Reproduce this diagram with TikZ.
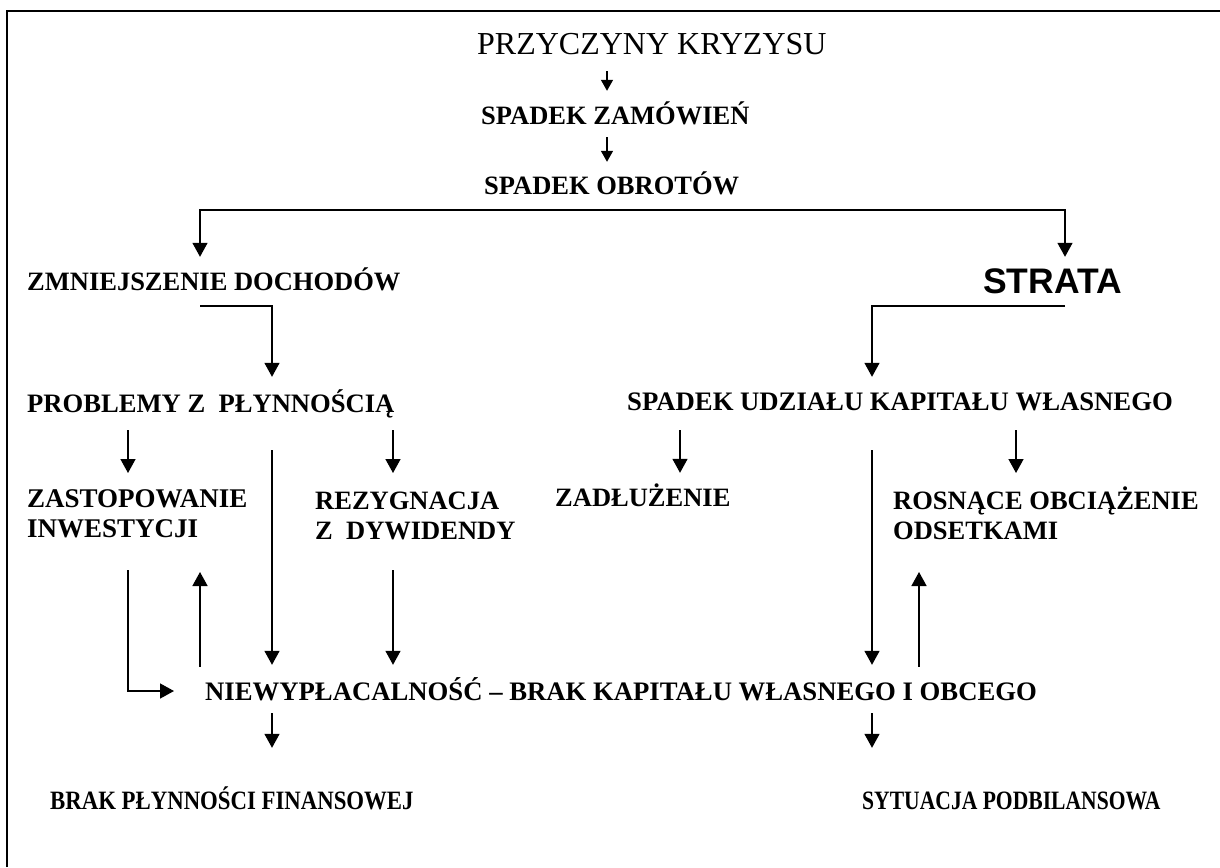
\documentclass[tikz,border=0pt]{standalone}
\usepackage{fontspec}
\usepackage{graphicx}
\setmainfont{Liberation Serif}
\newfontfamily\headsans{Liberation Sans}
\usetikzlibrary{arrows.meta,calc}
\newcommand{\boxfont}[1]{\bfseries\fontsize{#1}{30}\selectfont}
\newcommand{\firstline}{\rule{0pt}{26pt}}
\begin{document}
\begin{tikzpicture}[x=1pt,y=-1pt,
  every node/.style={inner sep=0pt},
  lbl/.style={anchor=base west, text height=18pt, text depth=0pt,
    font=\boxfont{26.5}},
  lbltwo/.style={anchor=north west, align=left, font=\boxfont{26.5}},
  arr/.style={line width=1.5pt, -{Triangle[length=14pt,width=15pt]}},
  arrsmall/.style={line width=1.5pt, -{Triangle[length=11pt,width=12pt]}},
  framepen/.style={line width=2.4pt}]
\useasboundingbox (0,0) rectangle (1220,867);
\fill[white] (0,0) rectangle (1220,867);
\draw[framepen] (7,867) -- (7,11) -- (1220,11);

% text blocks
\node[lbl, font=\fontsize{32}{36}\selectfont, text height=22pt] (title) at (477,55) {PRZYCZYNY KRYZYSU};
\node[lbl] (zam)  at (481,124) {SPADEK ZAMÓWIEŃ};
\node[lbl] (obr)  at (484,194) {SPADEK OBROTÓW};
\node[lbl] (zmn)  at (27,290)  {ZMNIEJSZENIE DOCHODÓW};
\node[lbl, font=\headsans\bfseries\fontsize{35.5}{40}\selectfont, text height=25pt] (strata) at (983,293) {STRATA};
\node[lbl, font=\boxfont{26.6}] (prob) at (27,412) {PROBLEMY Z~ PŁYNNOŚCIĄ};
\node[lbl, font=\boxfont{26.7}] (sukw) at (627,410) {SPADEK UDZIAŁU KAPITAŁU WŁASNEGO};
\node[lbltwo, font=\boxfont{27}] (zast) at (27,481)  {\firstline ZASTOPOWANIE\\INWESTYCJI};
\node[lbltwo] (rez)  at (315,483) {\firstline REZYGNACJA\\Z~ DYWIDENDY};
\node[lbl] (zad)  at (555,506) {ZADŁUŻENIE};
\node[lbltwo] (ros)  at (893,483) {\firstline ROSNĄCE OBCIĄŻENIE\\ODSETKAMI};
\node[lbl, font=\boxfont{26.7}] (niew) at (205,700) {NIEWYPŁACALNOŚĆ – BRAK KAPITAŁU WŁASNEGO I OBCEGO};
\node[lbl] (brak) at (50,809)  {\scalebox{0.86}[1]{BRAK PŁYNNOŚCI FINANSOWEJ}};
\node[lbl] (syt)  at (862,809) {\scalebox{0.815}[1]{SYTUACJA PODBILANSOWA}};

% columns used by the connectors
\coordinate (cA) at (607,0);
\coordinate (cB) at (200,0);
\coordinate (cC) at (1065,0);
\coordinate (cD) at (272,0);
\coordinate (cE) at (872,0);
\coordinate (cF) at (128,0);
\coordinate (cG) at (393,0);
\coordinate (cH) at (680,0);
\coordinate (cI) at (1016,0);
\coordinate (cJ) at (200,0);
\coordinate (cK) at (919,0);

% top chain
\draw[arrsmall, shorten <=16pt, shorten >=15pt] (title.south -| cA) -- (zam.north -| cA);
\draw[arrsmall, shorten <=13pt, shorten >=14pt] (zam.south -| cA) -- (obr.north -| cA);

% split into the two branches
\coordinate (bar) at ($(obr.south)+(0,16)$);
\draw[arr, shorten >=15pt] (bar) -| (zmn.north -| cB);
\draw[arr, shorten >=11pt] (bar) -| (strata.north -| cC);

\draw[arr, shorten >=17pt] ($(zmn.south -| cB)+(0,16)$) -| (prob.north -| cD);
\draw[arr, shorten >=15pt] ($(strata.south -| cC)+(0,13)$) -| (sukw.north -| cE);

% second level
\draw[arr, shorten <=18pt, shorten >=8pt]  (prob.south -| cF) -- (zast.north -| cF);
\draw[arr, shorten <=18pt, shorten >=10pt] (prob.south -| cG) -- (rez.north -| cG);
\draw[arr, shorten <=20pt, shorten >=15pt] (sukw.south -| cH) -- (zad.north -| cH);
\draw[arr, shorten <=20pt, shorten >=10pt] (sukw.south -| cI) -- (ros.north -| cI);

% into insolvency
\draw[arr, shorten <=38pt, shorten >=17pt] (prob.south -| cD) -- (niew.north -| cD);
\draw[arr, shorten <=40pt, shorten >=17pt] (sukw.south -| cE) -- (niew.north -| cE);
\draw[arr, shorten >=17pt] ($(rez.north -| cG)+(0,87)$) -- (niew.north -| cG);
\draw[arr, shorten >=31pt] ($(zast.north -| cF)+(0,89)$) |- (niew.west);

% feedback
\draw[arr] ($(niew.north -| cJ)+(0,-15)$) -- ($(zast.north -| cJ)+(0,91)$);
\draw[arr] ($(niew.north -| cK)+(0,-15)$) -- ($(ros.north -| cK)+(0,89)$);

% outcomes
\draw[arr, shorten <=13pt, shorten >=43pt] (niew.south -| cD) -- (brak.north -| cD);
\draw[arr, shorten <=13pt, shorten >=43pt] (niew.south -| cE) -- (syt.north -| cE);
\end{tikzpicture}
\end{document}
